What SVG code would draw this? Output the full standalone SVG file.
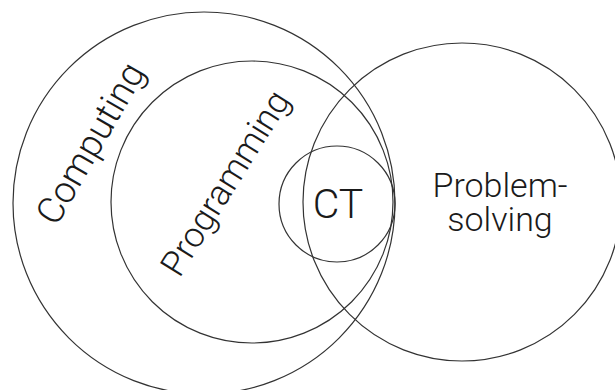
<svg xmlns="http://www.w3.org/2000/svg" width="615" height="390" viewBox="0 0 615 390">
<style>
.c{fill:none;stroke:#333;stroke-width:1.2}
.t{font-family:Roboto,"Liberation Sans",Arial,Helvetica,sans-serif;font-weight:300;fill:#1a1a1a}
</style>
<rect width="615" height="390" fill="#fff"/>
<g id="computing">
<circle class="c" cx="204" cy="203" r="191"/>
<text class="t" font-size="37" text-anchor="middle" transform="translate(90,143) rotate(-60)" y="13">Computing</text>
</g>
<g id="programming">
<circle class="c" cx="252" cy="202" r="141"/>
<text class="t" font-size="35" text-anchor="middle" transform="translate(225,183) rotate(-58)" y="12">Programming</text>
</g>
<g id="problem-solving">
<circle class="c" cx="462" cy="202" r="159"/>
<text class="t" font-size="34" text-anchor="middle"><tspan x="500" y="197">Problem-</tspan><tspan x="500" y="231">solving</tspan></text>
</g>
<g id="ct">
<circle class="c" cx="337" cy="204" r="58"/>
<text class="t" font-size="41" text-anchor="middle" x="338" y="218">CT</text>
</g>
<g id="connectors"></g>
</svg>
